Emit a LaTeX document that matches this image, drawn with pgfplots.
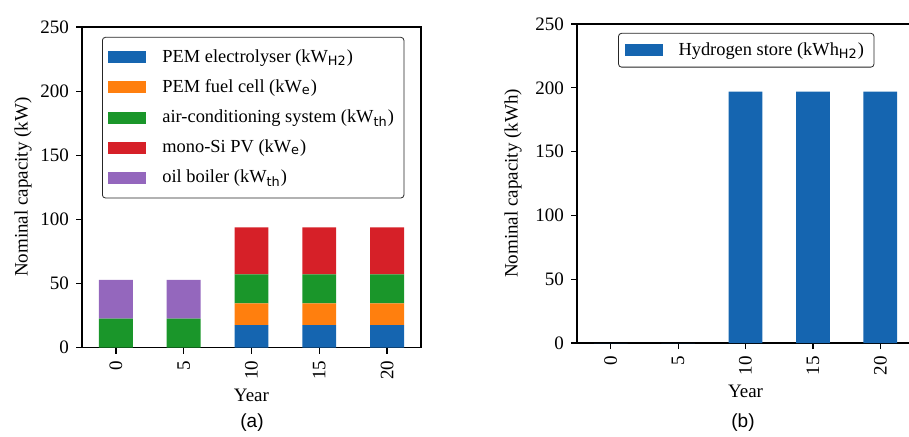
\documentclass[border=0pt]{standalone}
\usepackage{fontspec}
\setmainfont{Liberation Serif}
\setsansfont{Liberation Sans}
\newfontfamily\subf{DejaVu Sans}
\usepackage{pgfplots}
\pgfplotsset{compat=1.18}
\newcommand{\sub}[1]{\textsubscript{\subf #1}}
\definecolor{cBlue}{HTML}{1565B0}
\definecolor{cOrange}{HTML}{FF7F0E}
\definecolor{cGreen}{HTML}{1A962A}
\definecolor{cRed}{HTML}{D62028}
\definecolor{cPurple}{HTML}{9467BD}
\newcommand{\fs}{\fontsize{9.5}{11}\selectfont}
\newcommand{\lfs}{\fontsize{9.2}{11}\selectfont}
\pgfplotsset{
  mystyle/.style={
    scale only axis, anchor=south west,
    xmin=-0.5, xmax=4.5, ymin=0, ymax=250,
    ytick={0,50,...,250},
    xtick={0,1,2,3,4}, xticklabels={0,5,10,15,20},
    xticklabel style={rotate=90, anchor=east},
    tick align=outside, tick pos=left, major tick length=3pt,
    axis line style={line width=0.6pt},
    every tick/.style={black, line width=0.6pt},
    tick label style={font=\rmfamily\fs},
    label style={font=\rmfamily\fs},
    /pgf/number format/assume math mode=true,
    xlabel={Year},
    xlabel style={yshift=2pt},
    bar width=0.5,
    legend cell align=left,
    legend style={draw=black!85, rounded corners=1.5pt, fill=white, font=\rmfamily\lfs,
      row sep=3.2pt, inner xsep=3pt, inner ysep=4pt},
  },
  mylegend/.style={
    legend image code/.code={\fill[##1, sharp corners] (0pt,-3pt) rectangle (19pt,3pt); \path (#1,0pt);},
  },
}
\begin{document}
\begin{tikzpicture}[x=1pt,y=1pt]
\clip (0,0) rectangle (454.5,218);
\begin{axis}[mystyle,
  at={(41pt,44.25pt)}, width=169.5pt, height=160.25pt,
  ybar stacked, mylegend=25pt,
  ylabel={Nominal capacity (kW)},
  ylabel style={yshift=-2.5pt},
  legend style={at={(0.059,0.969)}, anchor=north west},
]
\addplot[fill=cBlue, draw=none] coordinates {(0,0) (1,0) (2,17.5) (3,17.5) (4,17.5)};
\addlegendentry{PEM electrolyser (kW\sub{H2})}
\addplot[fill=cOrange, draw=none] coordinates {(0,0) (1,0) (2,17) (3,17) (4,17)};
\addlegendentry{PEM fuel cell (kW\sub{e})}
\addplot[fill=cGreen, draw=none] coordinates {(0,22.5) (1,22.5) (2,22.5) (3,22.5) (4,22.5)};
\addlegendentry{air-conditioning system (kW\sub{th})}
\addplot[fill=cRed, draw=none] coordinates {(0,0) (1,0) (2,36.8) (3,36.8) (4,36.8)};
\addlegendentry{mono-Si PV (kW\sub{e})}
\addplot[fill=cPurple, draw=none] coordinates {(0,30.2) (1,30.2) (2,0) (3,0) (4,0)};
\addlegendentry{oil boiler (kW\sub{th})}
\end{axis}
\begin{axis}[mystyle,
  at={(288.5pt,46.5pt)}, width=168.5pt, height=159.5pt,
  ybar, mylegend=25pt,
  ylabel={Nominal capacity (kWh)},
  legend style={at={(0.122,0.972)}, anchor=north west, inner ysep=2.5pt},
]
\addplot[fill=cBlue, draw=none] coordinates {(0,0) (1,0) (2,197) (3,197) (4,197)};
\addlegendentry{Hydrogen store (kWh\sub{H2})}
\end{axis}
\node[font=\sffamily\fs] at (126,6.5) {(a)};
\node[font=\sffamily\fs] at (371.5,6.5) {(b)};
\end{tikzpicture}
\end{document}
